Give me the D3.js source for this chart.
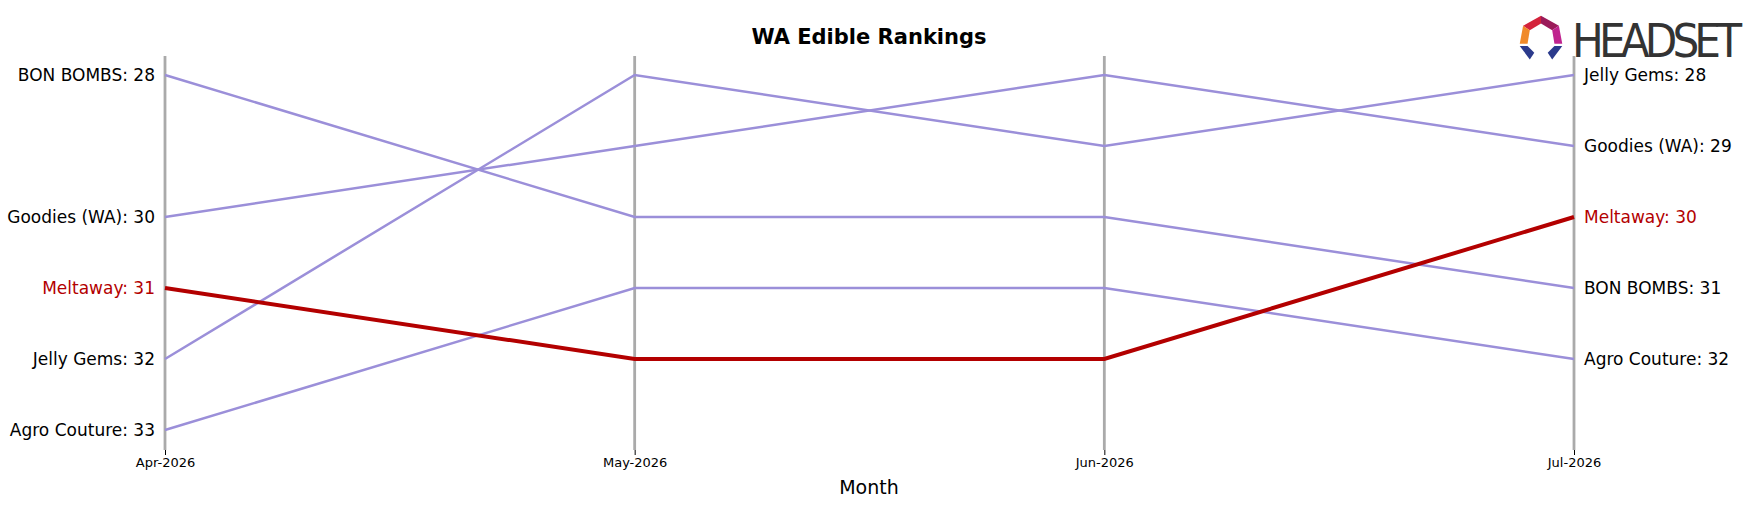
<!DOCTYPE html>
<html><head><meta charset="utf-8">
<script src="https://cdn.jsdelivr.net/npm/d3@7"></script>
<style>body{margin:0;background:#fff;font-family:"DejaVu Sans",sans-serif}</style>
</head><body><svg id="chart" width="1757" height="506"></svg>
<script>
// Data
const months = ['Apr-2026', 'May-2026', 'Jun-2026', 'Jul-2026'];
const brands = ['BON BOMBS', 'Goodies (WA)', 'Meltaway', 'Jelly Gems', 'Agro Couture'];
const ranks = {
    'BON BOMBS': [28, 30, 30, 31],
    'Goodies (WA)': [30, 29, 28, 29],
    'Meltaway': [31, 32, 32, 30],
    'Jelly Gems': [32, 28, 29, 28],
    'Agro Couture': [33, 31, 31, 32]
};
const highlight = 'Meltaway';

const svg = d3.select('#chart');
const xScale = d3.scalePoint().domain(months).range([165, 1574]);
const yScale = d3.scaleLinear().domain([28, 33]).range([75, 430]);

// Title
svg.append('text').attr('x', 869).attr('y', 44).attr('text-anchor', 'middle')
    .style('font-size', '21px').style('font-weight', 'bold').text('WA Edible Rankings');

// Vertical month lines
svg.selectAll('.vline').data(months).enter().append('line')
    .attr('x1', d => xScale(d)).attr('x2', d => xScale(d))
    .attr('y1', 56).attr('y2', 450)
    .attr('stroke', '#aaa').attr('stroke-width', 2.8);

// x axis
const xAxis = svg.append('g').attr('transform', 'translate(0,450)')
    .call(d3.axisBottom(xScale).tickSize(5));
xAxis.select('.domain').remove();
xAxis.selectAll('text').style('font-size', '13px').style('font-family', 'DejaVu Sans');
svg.append('text').attr('x', 869).attr('y', 494).attr('text-anchor', 'middle')
    .style('font-size', '19px').text('Month');

// Lines
const line = d3.line().x((d, i) => xScale(months[i])).y(d => yScale(d));
const order = brands.filter(b => b !== highlight).concat([highlight]);
svg.selectAll('.series').data(order).enter().append('path')
    .attr('d', b => line(ranks[b]))
    .attr('fill', 'none')
    .attr('stroke', b => b === highlight ? '#b30000' : '#9b8fd9')
    .attr('stroke-width', b => b === highlight ? 4 : 2.5);

// Labels
brands.forEach(b => {
    const r = ranks[b];
    const col = b === highlight ? '#b30000' : '#000';
    svg.append('text').attr('x', 155).attr('y', yScale(r[0])).attr('dy', '0.35em')
        .attr('text-anchor', 'end').style('font-size', '17px').attr('fill', col)
        .text(`${b}: ${r[0]}`);
    svg.append('text').attr('x', 1584).attr('y', yScale(r[3])).attr('dy', '0.35em')
        .style('font-size', '17px').attr('fill', col)
        .text(`${b}: ${r[3]}`);
});

// Logo
const logo = svg.append('g').attr('transform', 'translate(1541,37) scale(1.12)');
logo.append('path').attr('d', 'M-16,-10 L0,-19 L0,-12 L-10,-6 Z').attr('fill', '#d4233b');
logo.append('path').attr('d', 'M0,-19 L16,-10 L10,-6 L0,-12 Z').attr('fill', '#9b1b5a');
logo.append('path').attr('d', 'M16,-10 L19,6 L12,6 L10,-6 Z').attr('fill', '#c0248f');
logo.append('path').attr('d', 'M-16,-10 L-10,-6 L-12,6 L-19,6 Z').attr('fill', '#f08a2a');
logo.append('path').attr('d', 'M-19,8 L-12,8 L-6,14 L-10,20 Z').attr('fill', '#2b3a8c');
logo.append('path').attr('d', 'M19,8 L12,8 L6,14 L10,20 Z').attr('fill', '#2b3a8c');
svg.append('text').attr('x', 1572).attr('y', 57).style('font-size', '47px')
    .style('font-family', 'Liberation Sans Narrow, DejaVu Sans Condensed, sans-serif')
    .attr('fill', '#333').attr('textLength', 170).text('HEADSET');
</script></body></html>
